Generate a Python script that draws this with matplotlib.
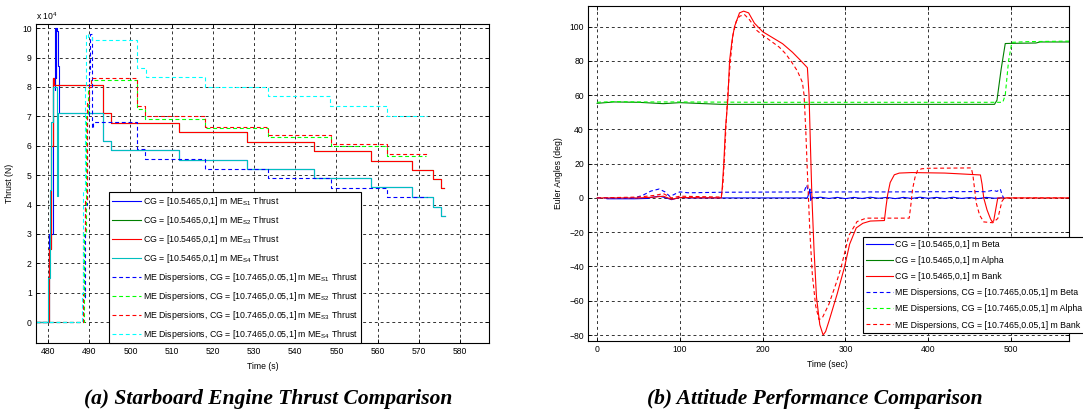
import matplotlib
matplotlib.use("Agg")
import matplotlib.pyplot as plt

plt.rcParams['font.family'] = ['Liberation Sans', 'DejaVu Sans']
plt.rcParams['mathtext.fontset'] = 'custom'
plt.rcParams['mathtext.rm'] = 'Liberation Sans'

# ---- (a) starboard engine thrust, units of 1e4 N ----
t_me13 = [477, 480.3, 480.8, 481.2, 481.5, 493.3, 495.2, 511.7, 528.2, 544.5, 558.4, 568.3, 573.4, 575.3, 576.0]
f_me13 = [0, 2.5, 6.0, 8.3, 8.05, 7.1, 6.78, 6.45, 6.12, 5.82, 5.48, 5.17, 4.86, 4.55, 4.55]

t_me14 = [477, 480.1, 480.4, 480.8, 481.2, 482.1, 482.5, 493.3, 495.4, 511.7, 528.2, 544.5, 558.4, 568.3, 573.4, 575.3, 576.3]
f_me14 = [0, 1.5, 4.5, 6.8, 8.0, 4.3, 7.12, 6.15, 5.85, 5.52, 5.2, 4.89, 4.58, 4.25, 3.9, 3.6, 3.6]

t_me11 = [477, 480.3, 481.3, 481.6, 481.8, 481.9, 482.0, 482.2, 482.4, 482.8, 493.3, 495.4, 511.7, 528.2, 544.5, 558.4, 568.3, 573.4, 575.3, 576.3]
f_me11 = [0, 3.0, 8.3, 7.9, 10.0, 8.3, 10.0, 9.9, 8.7, 7.12, 6.15, 5.85, 5.52, 5.2, 4.89, 4.58, 4.25, 3.9, 3.6, 3.6]

t_md1 = [477, 488.5, 489.0, 489.5, 490.0, 490.3, 490.6, 490.9, 501.5, 503.5, 518.2, 533.3, 548.6, 562.2, 572.0]
f_md1 = [0, 0.8, 4.0, 7.0, 8.5, 9.8, 6.6, 6.8, 5.88, 5.55, 5.2, 4.89, 4.55, 4.25, 4.25]
t_md2 = [477, 488.7, 489.2, 489.6, 490.5, 501.5, 503.5, 518.2, 533.3, 548.6, 562.2, 571.6]
f_md2 = [0, 3.0, 7.0, 8.0, 8.22, 7.25, 6.92, 6.6, 6.28, 5.98, 5.65, 5.65]
t_md3 = [477, 488.6, 489.0, 489.4, 490.0, 490.5, 501.5, 503.5, 518.2, 533.3, 548.6, 562.2, 572.0]
f_md3 = [0, 3.1, 4.2, 7.5, 8.0, 8.3, 7.35, 7.0, 6.65, 6.35, 6.05, 5.72, 5.72]
t_md4 = [477, 488.2, 488.6, 489.0, 489.3, 489.6, 490.8, 501.5, 503.7, 518.2, 533.3, 548.4, 562.2, 572.0]
f_md4 = [0, 1.0, 4.5, 8.0, 9.8, 9.7, 9.6, 8.65, 8.33, 8.0, 7.68, 7.35, 7.0, 7.0]

labels_a = [r'CG = [10.5465,0,1] m ME$_{\mathrm{S1}}$ Thrust',
            r'CG = [10.5465,0,1] m ME$_{\mathrm{S2}}$ Thrust',
            r'CG = [10.5465,0,1] m ME$_{\mathrm{S3}}$ Thrust',
            r'CG = [10.5465,0,1] m ME$_{\mathrm{S4}}$ Thrust',
            r'ME Dispersions, CG = [10.7465,0.05,1] m ME$_{\mathrm{S1}}$ Thrust',
            r'ME Dispersions, CG = [10.7465,0.05,1] m ME$_{\mathrm{S2}}$ Thrust',
            r'ME Dispersions, CG = [10.7465,0.05,1] m ME$_{\mathrm{S3}}$ Thrust',
            r'ME Dispersions, CG = [10.7465,0.05,1] m ME$_{\mathrm{S4}}$ Thrust']

# ---- (b) attitude, deg ----
t_beta = [12, 45, 60, 68, 75, 82, 90, 100, 110, 150, 200, 254, 256, 257, 258, 260, 262,
          270, 280, 290, 300, 310, 320, 330, 340, 350, 360, 370, 380, 390, 400, 410, 420,
          430, 440, 450, 460, 470, 480, 489]
beta = [-0.5, -0.5, -0.3, 0.5, 1.0, 0.2, -1.0, 0.3, 0, 0, 0, 0, 3, 5.2, -1.5, 0.5, 0,
        0.4, -0.3, 0.3, -0.4, 0.3, -0.3, 0.4, -0.2, 0.3, -0.4, 0.3, -0.3, 0.4, -0.2, 0.3,
        -0.3, 0.4, -0.3, 0.2, -0.4, 0.3, -0.2, 0]

t_alpha = [0, 20, 50, 80, 100, 150, 200, 300, 400, 480, 483, 488, 493, 500, 530, 535, 570]
alpha = [55.2, 56.0, 55.8, 55.0, 55.6, 54.6, 54.6, 54.6, 54.6, 54.6, 57, 75, 90.1, 90.2, 90.4, 91.0, 91.0]

t_bank = [0, 50, 70, 80, 90, 100, 150, 151, 153, 155, 158, 160, 163, 166, 172, 177, 183,
          190, 200, 212, 224, 236, 245, 254, 256, 258, 259.5, 262, 265, 269, 273, 276,
          280, 290, 299, 305, 313, 321, 330, 347, 349, 351, 354, 359, 365, 380, 420, 440,
          463, 465, 467, 471, 475, 477, 479, 481, 484, 500, 570]
bank = [0, 0, 0.5, 1.0, -0.8, 0.2, 0, 5, 20, 40, 58, 80, 92, 100, 108, 109, 108,
        102, 97, 93.5, 90, 85, 80.6, 76, 60, 25, 0, -30, -58, -74, -80, -78,
        -72, -56, -40, -27, -17.5, -14.8, -13.5, -13.2, -5, 2, 9, 13.5, 14.5, 14.8, 14.5, 14.0,
        13.4, 8, 0, -7, -12, -13.8, -13.5, -8, 0, 0, 0]

t_beta_d = [0, 45, 55, 65, 75, 82, 88, 95, 100, 110, 150, 200, 250, 253, 255, 257, 260,
            300, 350, 400, 460, 470, 478, 483, 487, 489, 491]
beta_d = [0, 0, 1.5, 4, 5.2, 3.5, 0.8, 2.5, 3.5, 3.0, 3.3, 3.4, 3.5, 7.5, 4.0, 3.0, 3.4,
          3.5, 3.5, 3.6, 3.7, 3.6, 4.5, 3.8, 5.2, 2.0, 0]

t_alpha_d = [0, 20, 50, 100, 150, 200, 300, 400, 490, 493, 497, 501, 520, 570]
alpha_d = [55.8, 56.2, 56.0, 56.0, 55.9, 55.8, 55.8, 55.8, 55.8, 60, 80, 90.8, 91.2, 91.5]

t_bank_d = [0, 50, 70, 80, 90, 100, 150, 152, 154, 156, 158, 161, 164, 168, 172, 178, 184,
            190, 193, 200, 210, 220, 228, 236, 242, 248, 250, 252, 254, 257, 260, 264, 268,
            272, 280, 290, 295, 304, 314, 325, 377, 379, 381, 384, 387, 392, 400, 452, 454,
            456, 458, 462, 467, 478, 484, 487, 489, 492, 570]
bank_d = [0, 0.5, 1.5, 2.5, 0, 1.0, 0.5, 8, 25, 45, 62, 80, 95, 103, 106, 107, 104,
          100, 97.7, 95, 91.5, 88, 84, 78.5, 74, 67.4, 60, 40, 15, -20, -45, -63, -71,
          -70, -62, -48, -40, -22, -13.8, -11.8, -11.8, -4, 5, 12, 16, 17, 17.3, 17.5, 13,
          5, -3, -10, -14, -14.5, -12, -6, -2, 0, 0]

labels_b = ['CG = [10.5465,0,1] m Beta', 'CG = [10.5465,0,1] m Alpha',
            'CG = [10.5465,0,1] m Bank',
            'ME Dispersions, CG = [10.7465,0.05,1] m Beta',
            'ME Dispersions, CG = [10.7465,0.05,1] m Alpha',
            'ME Dispersions, CG = [10.7465,0.05,1] m Bank']

solid_cols = ['#0000ff', '#008000', '#ff0000', '#00bfbf']
dash_cols = ['#0000ff', '#00ff00', '#ff0000', '#00ffff']
DASH = (0, (3.5, 2.5))
LW = 0.8
FS = 6.2
LFS = 6.35


def style_axes(ax):
    ax.grid(True, color='0.2', linestyle=(0, (3, 3)), linewidth=0.7)
    ax.tick_params(direction='in', length=3, width=0.6, top=True, right=True,
                   labelsize=FS, pad=3)
    for s in ax.spines.values():
        s.set_linewidth(0.8)
        s.set_color('k')


fig = plt.figure(figsize=(10.83, 4.12), dpi=100)
W, H = 1083, 412

# ---- left panel ----
ax1 = fig.add_axes([36 / W, 1 - 343 / H, (489 - 36) / W, (343 - 24) / H])
ax1.plot(t_me11, f_me11, color=solid_cols[0], lw=LW, drawstyle='steps-post', label=labels_a[0])
ax1.plot(t_me13, f_me13, color=solid_cols[1], lw=LW, drawstyle='steps-post', label=labels_a[1])
ax1.plot(t_me13, f_me13, color=solid_cols[2], lw=LW, drawstyle='steps-post', label=labels_a[2])
ax1.plot(t_me14, f_me14, color=solid_cols[3], lw=LW, drawstyle='steps-post', label=labels_a[3])
ax1.plot(t_md1, f_md1, color=dash_cols[0], lw=LW, ls=DASH, drawstyle='steps-post', label=labels_a[4])
ax1.plot(t_md2, f_md2, color=dash_cols[1], lw=LW, ls=DASH, drawstyle='steps-post', label=labels_a[5])
ax1.plot(t_md3, f_md3, color=dash_cols[2], lw=LW, ls=DASH, drawstyle='steps-post', label=labels_a[6])
ax1.plot(t_md4, f_md4, color=dash_cols[3], lw=LW, ls=DASH, drawstyle='steps-post', label=labels_a[7])
ax1.set_xlim(477.1, 587)
ax1.set_ylim(-0.71, 10.14)
ax1.set_xticks(range(480, 581, 10))
ax1.set_yticks(range(0, 11))
style_axes(ax1)
ax1.set_xlabel('Time (s)', fontsize=FS)
ax1.set_ylabel('Thrust (N)', fontsize=FS)
ax1.xaxis.set_label_coords(0.5, -0.06)
ax1.yaxis.set_label_coords(-0.049, 0.5)
leg1 = ax1.legend(loc='upper left', bbox_to_anchor=(0.161, 0.473), borderaxespad=0,
                  fontsize=LFS, labelspacing=0.68, handlelength=3.3, handletextpad=0.3,
                  borderpad=0.3, fancybox=False, framealpha=1, edgecolor='k')
leg1.get_frame().set_linewidth(0.8)
fig.text(36 / W, 1 - 16 / H, r'x 10$^{4}$', fontsize=FS, va='center', ha='left')

# ---- right panel ----
ax2 = fig.add_axes([588 / W, 1 - 341 / H, (1069 - 588) / W, (341 - 6) / H])
ax2.plot(t_beta, beta, color=solid_cols[0], lw=LW, label=labels_b[0])
ax2.plot(t_alpha, alpha, color=solid_cols[1], lw=LW, label=labels_b[1])
ax2.plot(t_bank, bank, color=solid_cols[2], lw=LW, label=labels_b[2])
ax2.plot(t_beta_d, beta_d, color=dash_cols[0], lw=LW, ls=DASH, label=labels_b[3])
ax2.plot(t_alpha_d, alpha_d, color=dash_cols[1], lw=LW, ls=DASH, label=labels_b[4])
ax2.plot(t_bank_d, bank_d, color=dash_cols[2], lw=LW, ls=DASH, label=labels_b[5])
ax2.set_xlim(-11, 570)
ax2.set_ylim(-83.5, 112)
ax2.set_xticks(range(0, 501, 100))
ax2.set_yticks(range(-80, 101, 20))
style_axes(ax2)
ax2.set_xlabel('Time (sec)', fontsize=FS)
ax2.set_ylabel('Euler Angles (deg)', fontsize=FS)
ax2.xaxis.set_label_coords(0.497, -0.057)
ax2.yaxis.set_label_coords(-0.052, 0.5)
leg2 = ax2.legend(loc='upper left', bbox_to_anchor=(0.572, 0.31), borderaxespad=0,
                  fontsize=LFS, labelspacing=0.8, handlelength=3.0, handletextpad=0.3,
                  borderpad=0.35, fancybox=False, framealpha=1, edgecolor='k')
leg2.get_frame().set_linewidth(0.8)

cap = dict(family='Liberation Serif', weight='bold', style='italic', fontsize=15.5,
           ha='center', va='center')
fig.text(268 / W, 1 - 399 / H, '(a) Starboard Engine Thrust Comparison', **cap)
fig.text(815 / W, 1 - 399 / H, '(b) Attitude Performance Comparison', **cap)

fig.savefig('out.png', dpi=100)
